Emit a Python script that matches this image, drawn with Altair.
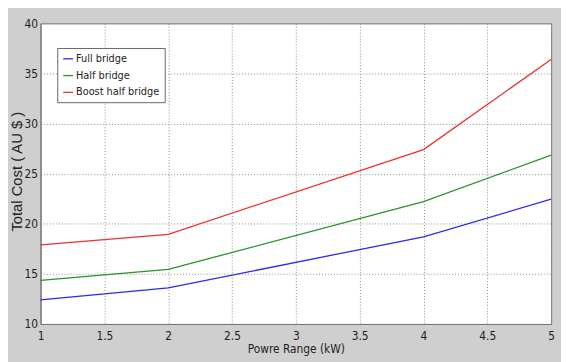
import altair as alt
import pandas as pd

power_kw = [1, 2, 4, 5]
full_bridge = [12.4, 13.6, 18.7, 22.45]
half_bridge = [14.35, 15.45, 22.2, 26.85]
boost_half_bridge = [17.9, 18.95, 27.4, 36.4]
series_names = ["Full bridge", "Half bridge", "Boost half bridge"]
series_colors = ["#2a2aee", "#2a922a", "#ee3030"]
x_ticks = [1, 1.5, 2, 2.5, 3, 3.5, 4, 4.5, 5]
y_ticks = [10, 15, 20, 25, 30, 35, 40]

rows = []
for name, vals in zip(series_names, [full_bridge, half_bridge, boost_half_bridge]):
    for x, v in zip(power_kw, vals):
        rows.append({"Power": x, "Cost": v, "Series": name})
df = pd.DataFrame(rows)

narrow = "DejaVu Sans Condensed, Liberation Sans Narrow, Arial Narrow, Liberation Sans, sans-serif"

chart = alt.Chart(df).mark_line(strokeWidth=1.3).encode(
    x=alt.X("Power:Q", scale=alt.Scale(domain=[1, 5], nice=False),
            axis=alt.Axis(values=x_ticks, format="~g", title="Powre Range (kW)", labelFont=narrow,
                          labelFontSize=12, labelColor="#222", titleFont=narrow,
                          titleFontSize=12, titleFontWeight="normal", titleColor="#222",
                          tickSize=0, labelPadding=7, titlePadding=2,
                          grid=True, gridDash=[1, 2], gridColor="#8a8a8a", gridOpacity=1,
                          domainColor="#777", labelFlush=False)),
    y=alt.Y("Cost:Q", scale=alt.Scale(domain=[10, 40], nice=False),
            axis=alt.Axis(values=y_ticks, format="~g", title="Total Cost ( AU $ )", labelFont=narrow,
                          labelFontSize=12, labelColor="#222", titleFont="Liberation Sans",
                          titleFontSize=15, titleFontWeight="normal", titleColor="#222",
                          tickSize=0, labelPadding=3, titleX=-16, titleY=150,
                          grid=True, gridDash=[1, 2], gridColor="#8a8a8a", gridOpacity=1,
                          domainColor="#777", labelFlush=False)),
    color=alt.Color("Series:N", scale=alt.Scale(domain=series_names, range=series_colors),
                    sort=series_names,
                    legend=alt.Legend(title=None, orient="none", legendX=17, legendY=25,
                                      symbolType="stroke", symbolSize=100, symbolStrokeWidth=1.3,
                                      labelFont=narrow, labelFontSize=11, labelColor="#222",
                                      fillColor="white", strokeColor="#666", padding=5,
                                      rowPadding=6, labelOffset=2, labelLimit=200)),
).properties(
    width=518, height=305,
    background="#cfcfcf",
    padding={"left": 33, "top": 13, "right": 10, "bottom": 36},
    autosize=alt.AutoSizeParams(type="none"),
).configure_view(fill="white", stroke="#777", strokeWidth=1)

chart.save("out.html", embed_options={"renderer": "svg", "actions": False})
